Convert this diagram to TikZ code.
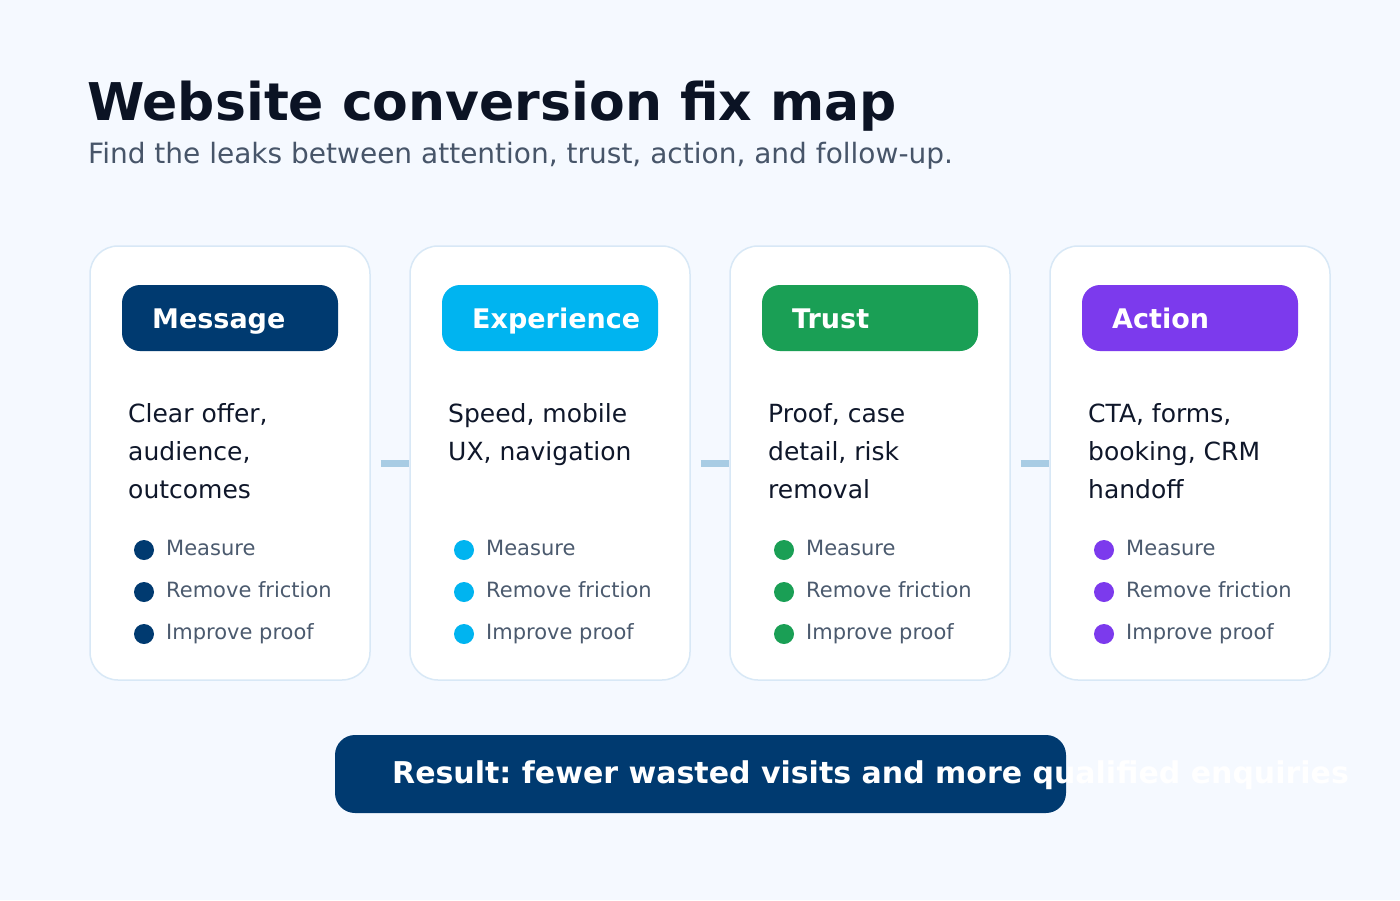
\documentclass[tikz,border=0pt]{standalone}
\usepackage{fontspec}
\setmainfont{DejaVu Sans}
\frenchspacing
\definecolor{bgc}{HTML}{F5F9FF}
\definecolor{titlec}{HTML}{0B1324}
\definecolor{subc}{HTML}{475569}
\definecolor{bodyc}{HTML}{0F172A}
\definecolor{bulc}{HTML}{4B5A6E}
\definecolor{cardb}{HTML}{D8E8F6}
\definecolor{connc}{HTML}{A8CCE4}
\definecolor{msg}{HTML}{003A70}
\definecolor{exp}{HTML}{00B4F0}
\definecolor{tru}{HTML}{1A9F55}
\definecolor{act}{HTML}{7C3AED}
\tikzset{
  card/.style={draw=cardb, line width=1.5pt, fill=white, rounded corners=28pt,
    minimum width=280pt, minimum height=434pt, inner sep=0pt},
  pill/.style={rounded corners=18pt, minimum width=216pt, minimum height=66pt, inner sep=0pt},
  hdr/.style={anchor=base west, inner sep=0pt, text=white, font=\bfseries\fontsize{27}{31}\selectfont},
  body/.style={anchor=base west, inner sep=0pt, text=bodyc, font=\fontsize{25}{29}\selectfont},
  bul/.style={circle, minimum size=20pt, inner sep=0pt},
  bultxt/.style={anchor=base west, inner sep=0pt, text=bulc, font=\fontsize{21}{25}\selectfont},
  conn/.style={draw=connc, line width=7pt},
}
\begin{document}
\begin{tikzpicture}[x=1pt,y=-1pt]
\useasboundingbox (0,0) rectangle (1400,900);
\fill[bgc] (0,0) rectangle (1400,900);
\node[anchor=base west, inner sep=0pt, text=titlec, font=\bfseries\fontsize{52}{60}\selectfont] (title) at (87,120) {Website conversion fix map};
\node[anchor=base west, inner sep=0pt, text=subc, font=\fontsize{28}{32}\selectfont] (subtitle) at (88,163) {Find the leaks between attention, trust, action, and follow-up.};
\foreach \i/\col/\ttl/\la/\lb/\lc in {
  0/msg/Message/{Clear offer,}/{audience,}/outcomes,
  1/exp/Experience/{Speed, mobile}/{UX, navigation}/{},
  2/tru/Trust/{Proof, case}/{detail, risk}/removal,
  3/act/Action/{CTA, forms,}/{booking, CRM}/handoff}{
  \pgfmathsetmacro\xo{90+320*\i}
  \node[card] (c\i) at (\xo+140,463) {};
  \node[pill, fill=\col] (p\i) at (\xo+140,318) {};
  \node[hdr] (h\i) at (\xo+62,328) {\ttl};
  \node[body] (ba\i) at (\xo+38,422) {\la};
  \node[body] (bb\i) at (\xo+38,460) {\lb};
  \node[body] (bc\i) at (\xo+38,498) {\lc};
  \node[bul, fill=\col] (d1\i) at (\xo+54,550) {};
  \node[bul, fill=\col] (d2\i) at (\xo+54,592) {};
  \node[bul, fill=\col] (d3\i) at (\xo+54,634) {};
  \node[bultxt] (t1\i) at (\xo+76,555) {Measure};
  \node[bultxt] (t2\i) at (\xo+76,597) {Remove friction};
  \node[bultxt] (t3\i) at (\xo+76,639) {Improve proof};
}
\foreach \i/\j in {0/1,1/2,2/3}{
  \draw[conn] ([xshift=10pt]c\i.east) -- ([xshift=-0.5pt]c\j.west);
}
\node[fill=msg, rounded corners=20pt, minimum width=731pt, minimum height=78pt, inner sep=0pt] (result) at (700.5,774) {};
\node[anchor=base west, inner sep=0pt, text=white, font=\bfseries\fontsize{30}{34}\selectfont] (resultt) at (392,783) {Result: fewer wasted visits and more qualified enquiries};
\end{tikzpicture}
\end{document}
